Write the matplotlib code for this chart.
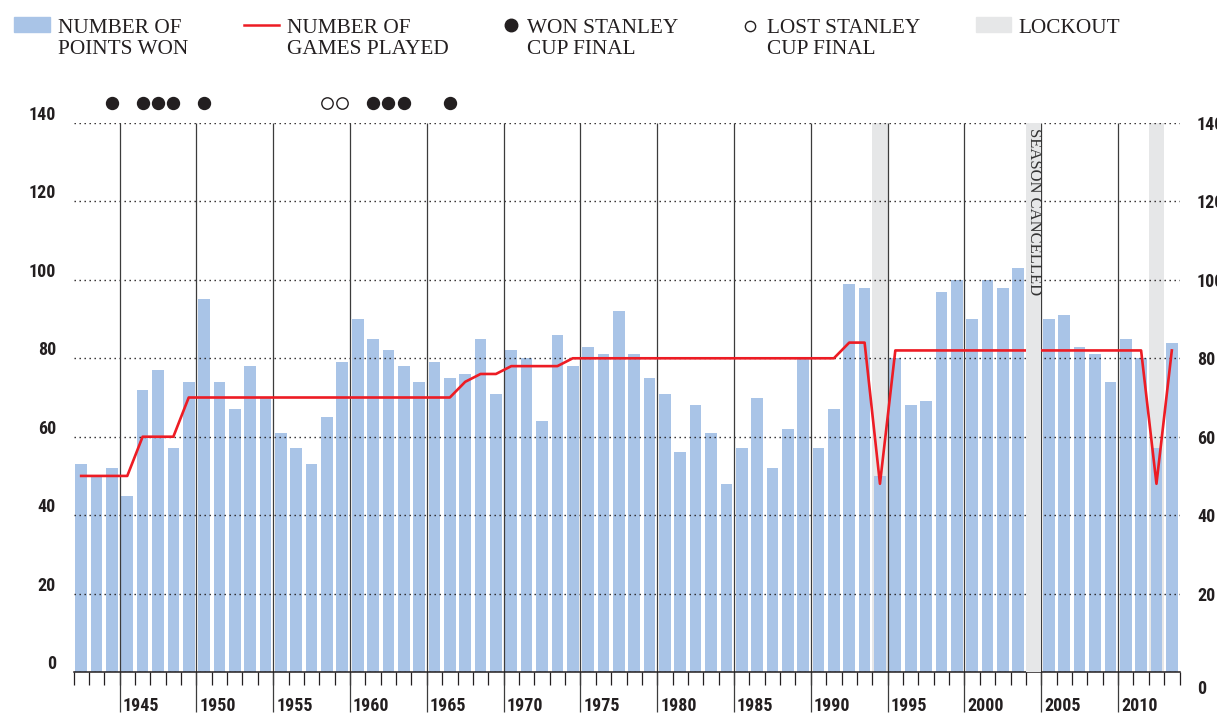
import matplotlib
matplotlib.use('Agg')
import matplotlib.pyplot as plt
import matplotlib.transforms as mtransforms
from matplotlib.patches import Rectangle
from matplotlib.lines import Line2D

plt.rcParams['lines.scale_dashes'] = False

# ---------------- data ----------------
seasons = list(range(1942, 2014))          # season start years
points = [53, 50, 52, 45, 72, 77, 57, 74,                      # 1942-1949
          95, 74, 67, 78, 70, 61, 57, 53, 65, 79,              # 1950-1959
          90, 85, 82, 78, 74, 79, 75, 76, 85, 71,              # 1960-1969
          82, 80, 64, 86, 78, 83, 81, 92, 81, 75,              # 1970-1979
          71, 56, 68, 61, 48, 57, 70, 52, 62, 80,              # 1980-1989
          57, 67, 99, 98, 50, 80, 68, 69, 97, 100,             # 1990-1999
          90, 100, 98, 103, None, 90, 91, 83, 81, 74,          # 2000-2009
          85, 80, 57, 84]                                      # 2010-2013
games = [50, 50, 50, 50, 60, 60, 60, 70,
         70, 70, 70, 70, 70, 70, 70, 70, 70, 70,
         70, 70, 70, 70, 70, 70, 70, 74, 76, 76,
         78, 78, 78, 78, 80, 80, 80, 80, 80, 80,
         80, 80, 80, 80, 80, 80, 80, 80, 80, 80,
         80, 80, 84, 84, 48, 82, 82, 82, 82, 82,
         82, 82, 82, 82, None, 82, 82, 82, 82, 82,
         82, 82, 48, 82]
cup_won = [1944, 1946, 1947, 1948, 1950, 1961, 1962, 1963, 1966]
cup_lost = [1958, 1959]
lockouts = [1994, 2004, 2012]
cancelled = 2004
year_ticks = list(range(1945, 2011, 5))
y_ticks = list(range(0, 141, 20))

# ---------------- style ----------------
BLUE = '#A9C4E7'
RED = '#ED1C24'
GRAY = '#E6E7E8'
DARK = '#231F20'
SANS = ['Roboto Condensed', 'Liberation Sans Narrow', 'DejaVu Sans Condensed', 'DejaVu Sans']
SERIF = ['Liberation Serif', 'DejaVu Serif']
TFS = 13

W, H = 1217, 720
fig = plt.figure(figsize=(W / 100, H / 100), dpi=100)
x0, x1 = 73.5, 1179.5
ybase, ytop = 672, 123
ax = fig.add_axes([x0 / W, (H - ybase) / H, (x1 - x0) / W, (ybase - ytop) / H])
ax.set_xlim(1942, 2014)
ax.set_ylim(0, 140)
ax.set_axisbelow(False)
px_per_unit = (ybase - ytop) / 140.0

# lockout bands (the cancelled one is drawn on the twin axis, above the line)
for yr in lockouts:
    if yr != cancelled:
        ax.axvspan(yr, yr + 1, color=GRAY, lw=0, zorder=1)

# bars
bx = [s + 0.5 for s, p in zip(seasons, points) if p is not None]
by = [p for p in points if p is not None]
ax.bar(bx, by, width=0.76, color=BLUE, lw=0, zorder=2)

# dotted horizontal grid
ax.set_yticks(y_ticks)
ax.yaxis.grid(True, color=DARK, lw=1.0, linestyle=(0, (1.0, 2.6)))
ax.xaxis.grid(False)

# major vertical lines extending below the axis
ax.vlines(year_ticks, -40 / px_per_unit, 140, colors='#3c3c3c', lw=0.9,
          clip_on=False, zorder=3)

# cup final markers
DOT_Y = 145
ax.plot([s + 0.5 for s in cup_won], [DOT_Y] * len(cup_won), 'o', ms=8.6,
        color=DARK, mec=DARK, clip_on=False, zorder=5)
ax.plot([s + 0.5 for s in cup_lost], [DOT_Y] * len(cup_lost), 'o', ms=8.2,
        mfc='white', mec=DARK, mew=1.0, clip_on=False, zorder=5)

# spines
for sp in ['top', 'left', 'right']:
    ax.spines[sp].set_visible(False)
ax.spines['bottom'].set_color(DARK)
ax.spines['bottom'].set_linewidth(1.1)
ax.spines['bottom'].set_zorder(4)

# x ticks
ax.set_xticks(year_ticks)
ax.set_xticks(list(range(1942, 2015)), minor=True)
ax.set_xticklabels([str(y) for y in year_ticks])
ax.tick_params(axis='x', which='both', direction='out', length=13 / 1.389,
               width=0.9, color=DARK)
ax.tick_params(axis='x', which='major', pad=12 / 1.389)
for lab in ax.get_xticklabels():
    lab.set_horizontalalignment('left')
    lab.set_fontfamily(SANS)
    lab.set_fontweight('bold')
    lab.set_fontsize(TFS)
    lab.set_color(DARK)
    lab.set_transform(lab.get_transform() +
                      mtransforms.ScaledTranslation(3 / 100, 0, fig.dpi_scale_trans))

# left y labels (sit above the grid lines)
ax.tick_params(axis='y', length=0, pad=17.5 / 1.389)
ax.set_yticklabels([str(v) for v in y_ticks])
for lab in ax.get_yticklabels():
    lab.set_fontfamily(SANS)
    lab.set_fontweight('bold')
    lab.set_fontsize(TFS)
    lab.set_color(DARK)
    lab.set_transform(lab.get_transform() +
                      mtransforms.ScaledTranslation(0, 10 / 100, fig.dpi_scale_trans))

# twin axis for games played
ax2 = ax.twinx()
ax2.set_ylim(0, 140)
ax2.set_yticks(y_ticks)
ax2.set_yticklabels([str(v) for v in y_ticks])
ax2.tick_params(axis='y', length=0, pad=17.5 / 1.389)
for sp in ax2.spines.values():
    sp.set_visible(False)
for v, lab in zip(y_ticks, ax2.get_yticklabels()):
    lab.set_fontfamily(SANS)
    lab.set_fontweight('bold')
    lab.set_fontsize(TFS)
    lab.set_color(DARK)
    if v == 0:
        lab.set_transform(lab.get_transform() +
                          mtransforms.ScaledTranslation(0, -15 / 100, fig.dpi_scale_trans))

gx = [s + 0.5 for s, g in zip(seasons, games) if g is not None]
gy = [g for g in games if g is not None]
ax2.plot(gx, gy, color=RED, lw=1.9, zorder=3)

ax2.axvspan(cancelled, cancelled + 1, color=GRAY, lw=0, zorder=4)
ax2.text(cancelled + 0.5, (ybase - 128) / px_per_unit, 'SEASON CANCELLED',
         rotation=270, ha='center', va='top', family=SERIF, fontsize=12,
         color='#333333', zorder=5)

# ---------------- legend (figure pixels) ----------------
def fx(x):
    return x / W


def fy(y):
    return 1 - y / H


LFS = 15.3
fig.patches.append(Rectangle((fx(14), fy(32)), fx(36), 15 / H, color=BLUE,
                             transform=fig.transFigure, figure=fig))
fig.lines.append(Line2D([fx(244), fx(279)], [fy(24.5), fy(24.5)], color=RED,
                        lw=1.8, transform=fig.transFigure, figure=fig))
fig.lines.append(Line2D([fx(511)], [fy(25)], marker='o', ms=9, color=DARK,
                        transform=fig.transFigure, figure=fig))
fig.lines.append(Line2D([fx(750)], [fy(25.5)], marker='o', ms=7.4, mfc='white',
                        mec=DARK, mew=1.0, transform=fig.transFigure, figure=fig))
fig.patches.append(Rectangle((fx(976), fy(32)), fx(35), 15 / H, color=GRAY,
                             transform=fig.transFigure, figure=fig))

legend_texts = [
    (58, 'NUMBER OF', 'POINTS WON'),
    (287, 'NUMBER OF', 'GAMES PLAYED'),
    (527, 'WON STANLEY', 'CUP FINAL'),
    (767, 'LOST STANLEY', 'CUP FINAL'),
    (1018, 'LOCKOUT', None),
]
for x, l1, l2 in legend_texts:
    fig.text(fx(x), fy(33.3), l1, family=SERIF, fontsize=LFS, color=DARK,
             ha='left', va='baseline')
    if l2:
        fig.text(fx(x), fy(54), l2, family=SERIF, fontsize=LFS, color=DARK,
                 ha='left', va='baseline')

fig.savefig('out.png', dpi=100)
